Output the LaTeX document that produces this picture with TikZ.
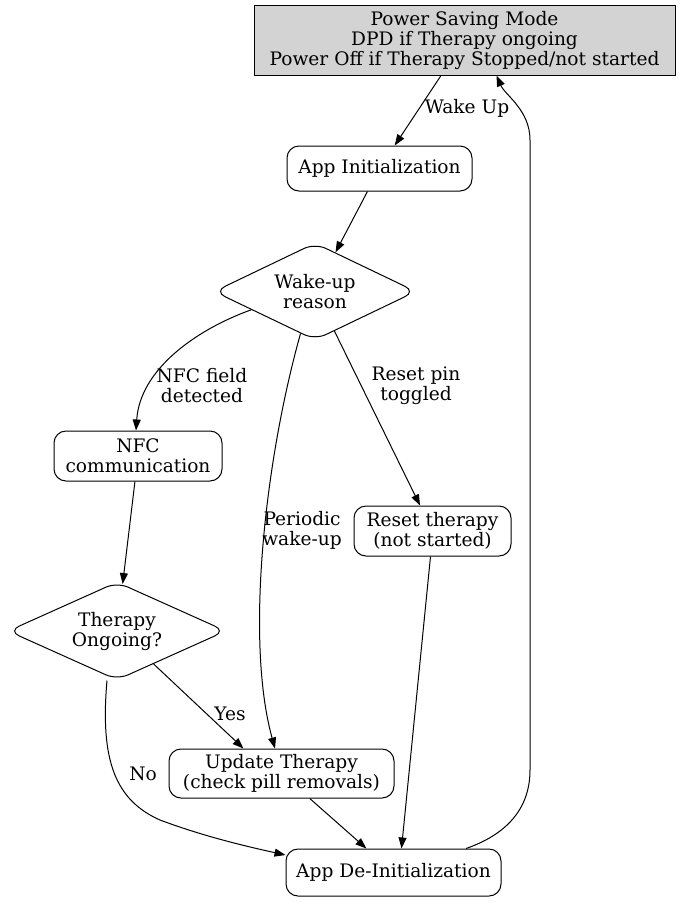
\documentclass[tikz,border=0pt]{standalone}
\usepackage{fontspec}
\setmainfont{DejaVu Serif}
\usetikzlibrary{shapes.geometric,arrows.meta}
\definecolor{psmgray}{HTML}{D3D3D3}
\tikzset{
  every node/.style={font=\fontsize{18.6}{20}\selectfont, align=center},
  box/.style={draw, line width=1pt, rounded corners=12pt, inner sep=0pt},
  dia/.style={draw, line width=1pt, diamond, rounded corners=12pt, inner sep=0pt, aspect=2},
  arr/.style={line width=1pt, -{Triangle[length=11pt,width=8pt]}},
  lbl/.style={inner sep=0pt}
}
\begin{document}
\begin{tikzpicture}[x=1pt,y=-1pt]
\path[use as bounding box] (0,0) rectangle (681,903);
\node[draw, line width=1pt, fill=psmgray, minimum width=421pt, minimum height=70pt, inner sep=0pt] (psm) at (464.5,40) {Power Saving Mode\\DPD if Therapy ongoing\\Power Off if Therapy Stopped/not started};
\node[box, minimum width=185pt, minimum height=45pt] (ai) at (379.5,168.5) {App Initialization};
\node[dia, minimum width=202pt, minimum height=97pt] (wr) at (315,291.5) {Wake-up\\reason};
\node[box, minimum width=168pt, minimum height=50pt] (nfc) at (138,456) {NFC\\communication};
\node[box, minimum width=157pt, minimum height=50pt] (rt) at (432.5,531) {Reset therapy\\(not started)};
\node[dia, minimum width=218pt, minimum height=98pt] (th) at (117,631) {Therapy\\Ongoing?};
\node[box, minimum width=225pt, minimum height=49pt] (ut) at (281.5,773.5) {Update Therapy\\(check pill removals)};
\node[box, minimum width=215pt, minimum height=47pt] (di) at (393.5,872.5) {App De-Initialization};

\draw[arr] (psm) -- (ai);
\node[lbl] at (467,108) {Wake Up};
\draw[arr] (ai) -- (wr);
\draw[arr] (wr.196) .. controls (195,330) and (140,370) .. ([xshift=-2pt]nfc.north);
\node[lbl] at (202,386) {NFC field\\detected};
\draw[arr] (wr.251) .. controls (265,460) and (245,640) .. ([xshift=-6.5pt]ut.north);
\node[lbl] at (302,530) {Periodic\\wake-up};
\draw[arr] (wr) -- (rt);
\node[lbl] at (416,386) {Reset pin\\toggled};
\draw[arr] (nfc) -- (th);
\draw[arr] (th.-42) -- ([xshift=-38pt]ut.north);
\node[lbl] at (230,714) {Yes};
\draw[arr] ([xshift=-10pt]th.south) .. controls (100,760) and (115,800) .. (160,820) .. controls (200,835) and (240,845) .. ([yshift=17.5pt]di.west);
\node[lbl] at (143,774) {No};
\draw[arr] (ut) -- (di);
\draw[arr] ([xshift=-2pt]rt.south) -- ([xshift=8pt]di.north);
\draw[arr] ([xshift=72.5pt]di.north) .. controls (505,835) and (530,810) .. (530,770) -- (530,140) .. controls (530,110) and (505,95) .. ([xshift=32pt]psm.south);
\end{tikzpicture}
\end{document}
